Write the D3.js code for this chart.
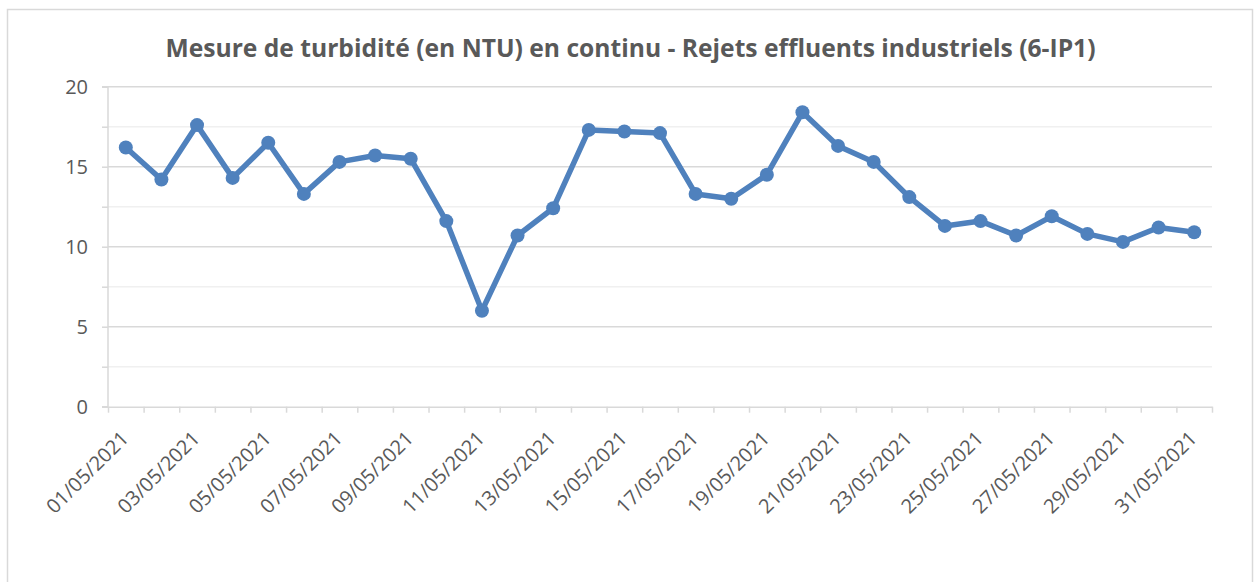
<!DOCTYPE html>
<html>
<head>
<meta charset="utf-8">
<script src="https://cdn.jsdelivr.net/npm/d3@7"></script>
<style>
  body { margin: 0; background: #fff; }
  text { font-family: "Open Sans", sans-serif; fill: #595959; }
</style>
</head>
<body>
<script>
// data
var dates = [
  "01/05/2021","02/05/2021","03/05/2021","04/05/2021","05/05/2021","06/05/2021",
  "07/05/2021","08/05/2021","09/05/2021","10/05/2021","11/05/2021","12/05/2021",
  "13/05/2021","14/05/2021","15/05/2021","16/05/2021","17/05/2021","18/05/2021",
  "19/05/2021","20/05/2021","21/05/2021","22/05/2021","23/05/2021","24/05/2021",
  "25/05/2021","26/05/2021","27/05/2021","28/05/2021","29/05/2021","30/05/2021",
  "31/05/2021"
];
var turbidity = [
  16.2, 14.2, 17.6, 14.3, 16.5, 13.3, 15.3, 15.7, 15.5, 11.6,
  6.0, 10.7, 12.4, 17.3, 17.2, 17.1, 13.3, 13.0, 14.5, 18.4,
  16.3, 15.3, 13.1, 11.3, 11.6, 10.7, 11.9, 10.8, 10.3, 11.2,
  10.9
];
var yTicks = [0, 5, 10, 15, 20];
var yMinor = [2.5, 7.5, 12.5, 17.5];
var title = "Mesure de turbidité (en NTU) en continu - Rejets effluents industriels (6-IP1)";

function graph(){
	var W = 1255, H = 582;
	var left = 108, right = 1212, top = 86.7, bottom = 406.7;

	var svg = d3.select("body")
				.append("svg")
				.attr("width", W)
				.attr("height", H);

	// chart frame
	svg.append("rect")
		.attr("x", 7.5).attr("y", 9.5)
		.attr("width", 1245).attr("height", 620)
		.attr("fill", "#fff")
		.attr("stroke", "#d9d9d9")
		.attr("stroke-width", 1.5);

	var xScale = d3.scalePoint().domain(dates).range([left, right]).padding(0.5);
	var xEdge = d3.scaleLinear().domain([0, dates.length]).range([left, right]);
	var yScale = d3.scaleLinear().domain([0, 20]).range([bottom, top]);

	// gridlines
	svg.append("g").selectAll("line")
		.data(yMinor)
		.enter().append("line")
		.attr("x1", left).attr("x2", right)
		.attr("y1", function(d){ return yScale(d); })
		.attr("y2", function(d){ return yScale(d); })
		.attr("stroke", "#f0f0f0")
		.attr("stroke-width", 1.5);
	svg.append("g").selectAll("line")
		.data(yTicks.filter(function(d){ return d > 0; }))
		.enter().append("line")
		.attr("x1", left).attr("x2", right)
		.attr("y1", function(d){ return yScale(d); })
		.attr("y2", function(d){ return yScale(d); })
		.attr("stroke", "#d9d9d9")
		.attr("stroke-width", 1.5);

	// y axis
	var yAxis = d3.axisLeft(yScale)
		.tickValues(yTicks.concat(yMinor))
		.tickSize(6)
		.tickPadding(14)
		.tickFormat(function(d){ return yTicks.indexOf(d) >= 0 ? d : ""; });
	var gy = svg.append("g")
		.attr("transform", "translate(" + left + ",0)")
		.call(yAxis);
	gy.selectAll("path, line").attr("stroke", "#d9d9d9").attr("stroke-width", 1.5);
	gy.select(".domain").attr("d", "M-6," + top + "H0V" + bottom + "H-6");
	gy.selectAll("text")
		.style("font-family", "'Open Sans', sans-serif")
		.style("font-size", "20px")
		.attr("fill", "#595959");

	// x axis: ticks on category boundaries
	var xAxis = d3.axisBottom(xEdge)
		.tickValues(d3.range(dates.length + 1))
		.tickSize(6)
		.tickSizeOuter(0)
		.tickFormat("");
	var gx = svg.append("g")
		.attr("transform", "translate(0," + bottom + ")")
		.call(xAxis);
	gx.selectAll("path, line").attr("stroke", "#d9d9d9").attr("stroke-width", 1.5);

	// x labels every other date, rotated
	svg.append("g").selectAll("text")
		.data(dates.filter(function(d, i){ return i % 2 == 0; }))
		.enter().append("text")
		.attr("text-anchor", "end")
		.attr("transform", function(d){
			return "translate(" + (xScale(d) + 4) + "," + (bottom + 33) + ") rotate(-45)";
		})
		.style("font-size", "20px")
		.text(function(d){ return d; });

	// line + markers
	var line = d3.line()
		.x(function(d, i){ return xScale(dates[i]); })
		.y(function(d){ return yScale(d); });
	svg.append("path")
		.datum(turbidity)
		.attr("d", line)
		.attr("fill", "none")
		.attr("stroke", "#4f81bd")
		.attr("stroke-width", 5.5)
		.attr("stroke-linejoin", "round");
	svg.selectAll("circle.dot")
		.data(turbidity)
		.enter().append("circle")
		.attr("class", "dot")
		.attr("r", 7)
		.attr("fill", "#4f81bd")
		.attr("cx", function(d, i){ return xScale(dates[i]); })
		.attr("cy", function(d){ return yScale(d); });

	// title
	var t = svg.append("text")
		.attr("x", 630.5)
		.attr("y", 57)
		.attr("text-anchor", "middle")
		.style("font-size", "23px")
		.style("font-weight", "bold")
		.text(title);
	var w = t.node().getComputedTextLength();
	t.style("font-size", (23 * 931 / w) + "px");
}

graph()
</script>
</body>
</html>
